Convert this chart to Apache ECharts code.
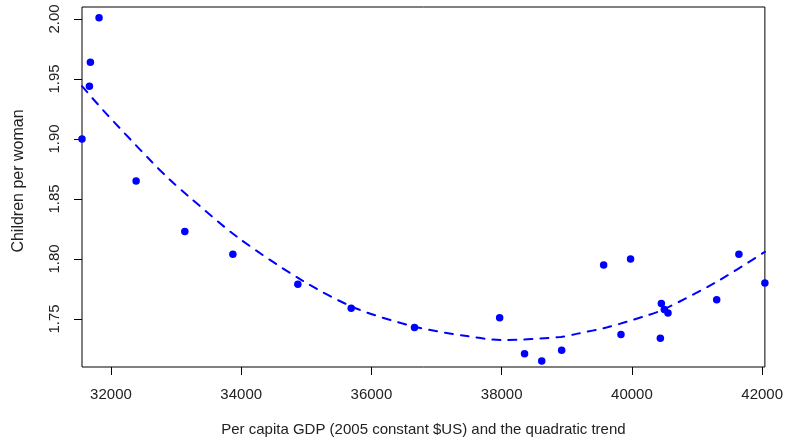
<!DOCTYPE html>
<html>
<head>
<meta charset="utf-8">
<script src="https://cdn.jsdelivr.net/npm/echarts@6/dist/echarts.min.js"></script>
<style>
  html, body { margin: 0; padding: 0; background: #fff; }
  #chart { width: 786px; height: 446px; }
</style>
</head>
<body>
<div id="chart"></div>
<script>
// Observed data: per capita GDP (2005 constant $US) vs children per woman
const gdp  = [31555, 31669, 31684, 31817, 32386, 33134, 33872, 34870, 35689, 36661, 37969, 38351,
              38615, 38921, 39566, 39832, 39979, 40437, 40452, 40498, 40554, 41302, 41643, 42042];
const fert = [1.900, 1.944, 1.964, 2.001, 1.865, 1.823, 1.804, 1.779, 1.759, 1.743, 1.751, 1.721,
              1.715, 1.724, 1.795, 1.737, 1.800, 1.734, 1.763, 1.758, 1.755, 1.766, 1.804, 1.780];

// Quadratic trend
const trendX = [31555, 31913, 32626, 32905, 33185, 33948, 34940, 35756, 36672, 37435, 37994,
                38910, 39165, 39623, 40234, 40489, 41302, 42042];
const trendY = [1.944, 1.922, 1.881, 1.866, 1.8525, 1.818, 1.782, 1.759, 1.7435, 1.736, 1.7325,
                1.735, 1.7378, 1.7431, 1.753, 1.758, 1.781, 1.806];

const xTicks = [32000, 34000, 36000, 38000, 40000, 42000];
const yTicks = [1.75, 1.80, 1.85, 1.90, 1.95, 2.00];

const xTitle = 'Per capita GDP (2005 constant $US) and the quadratic trend';
const yTitle = 'Children per woman';

const FONT = '"Liberation Sans", Arial, sans-serif';
const chart = echarts.init(document.getElementById('chart'), null, { renderer: 'canvas' });

chart.setOption({
  animation: false,
  backgroundColor: '#ffffff',
  grid: {
    left: 82, right: 17, top: 7, bottom: 79,
    show: true, borderColor: '#000', borderWidth: 1, backgroundColor: 'transparent'
  },
  graphic: [
    {
      type: 'text',
      x: 19, y: 181,
      rotation: Math.PI / 2,
      style: {
        text: yTitle, fontFamily: FONT, fontSize: 16, fill: '#222',
        align: 'center', verticalAlign: 'middle'
      }
    }
  ],
  xAxis: {
    type: 'value',
    min: gdp[0], max: gdp[gdp.length - 1],
    name: xTitle,
    nameLocation: 'middle',
    nameGap: 55,
    nameTextStyle: { fontFamily: FONT, fontSize: 15, color: '#222' },
    axisLine: { show: false },
    axisTick: { show: true, length: 8, customValues: xTicks, lineStyle: { color: '#000', width: 1 } },
    axisLabel: {
      customValues: xTicks, margin: 20, fontFamily: FONT, fontSize: 15, color: '#222',
      formatter: v => String(v)
    },
    splitLine: { show: false }
  },
  yAxis: {
    type: 'value',
    min: 1.71, max: 2.01,
    axisLine: { show: false },
    axisTick: { show: true, length: 8, customValues: yTicks, lineStyle: { color: '#000', width: 1 } },
    axisLabel: {
      customValues: yTicks, rotate: 90, margin: 20, fontFamily: FONT, fontSize: 15, color: '#222',
      formatter: v => v.toFixed(2)
    },
    splitLine: { show: false }
  },
  series: [
    {
      type: 'line',
      data: trendX.map((x, i) => [x, trendY[i]]),
      smooth: 0.3,
      showSymbol: false,
      symbol: 'none',
      lineStyle: { color: '#0000ff', width: 2, type: [8, 8], cap: 'round' },
      z: 2
    },
    {
      type: 'scatter',
      data: gdp.map((x, i) => [x, fert[i]]),
      symbol: 'circle',
      symbolSize: 7.5,
      itemStyle: { color: '#0000ff', opacity: 1 },
      z: 3
    }
  ]
});
</script>
</body>
</html>
